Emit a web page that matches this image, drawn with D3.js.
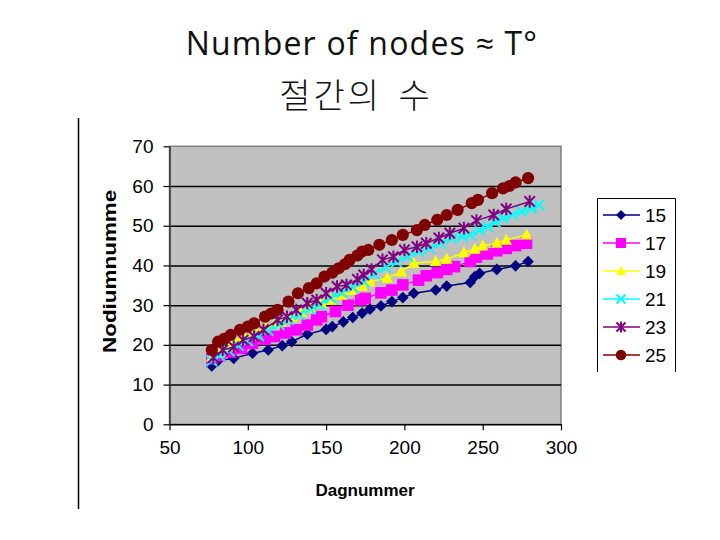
<!DOCTYPE html>
<html>
<head>
<meta charset="utf-8">
<script src="https://cdn.jsdelivr.net/npm/d3@7"></script>
<style>
  body { margin: 0; background: #fff; }
  svg { display: block; }
</style>
</head>
<body>
<div id="chart"></div>
<script>
// series data (day number, node count)
const seriesNames = ["15", "17", "19", "21", "23", "25"];

const days15 = [77, 81, 91, 103, 113, 122, 128, 138, 150, 154, 161, 167, 173, 178, 185, 192, 199, 206, 220, 227, 242, 245, 248, 259, 271, 279];
const vals15 = [14.7, 16, 16.6, 17.9, 18.7, 19.8, 20.8, 22.7, 23.9, 24.6, 25.8, 26.9, 28, 29, 29.8, 30.9, 31.9, 33, 33.8, 34.8, 35.7, 37.2, 38, 39, 39.9, 41];

const days17 = [77, 82, 89, 96, 103, 111, 117, 124, 131, 138, 144, 147, 156, 164, 172, 175, 185, 192, 199, 209, 214, 221, 227, 232, 242, 246, 253, 259, 265, 271, 278];
const vals17 = [16.5, 17.3, 18.2, 19.1, 20.4, 21.4, 22.1, 23, 23.8, 25, 26.3, 27.1, 28.4, 30, 31.3, 31.7, 33.1, 33.8, 35.1, 36.3, 37.4, 38.2, 39, 39.7, 41, 42.1, 42.9, 43.7, 44.3, 45, 45.6];

const days19 = [77, 82, 88, 92, 98, 105, 111, 117, 121, 128, 134, 140, 147, 153, 160, 166, 173, 178, 189, 198, 206, 220, 227, 238, 245, 250, 259, 265, 278];
const vals19 = [17, 18, 19.5, 21.2, 22, 23.3, 24.6, 25.3, 25.8, 27, 28.2, 29.3, 30.5, 31.3, 32.5, 33.7, 34.8, 35.9, 36.8, 38.4, 40.6, 41, 41.6, 43.2, 44.1, 44.9, 45.6, 46.4, 47.7];

const days21 = [77, 82, 88, 94, 100, 107, 113, 120, 126, 133, 140, 146, 153, 160, 167, 174, 181, 188, 195, 202, 209, 216, 223, 230, 237, 242, 248, 253, 258, 263, 269, 275, 281, 286];
const vals21 = [16, 17.3, 18.5, 19.8, 21, 22.3, 23.6, 25.1, 26.4, 27.6, 29, 30.1, 31.8, 33.2, 34.5, 36, 37.8, 39.6, 40.9, 42.3, 43.5, 44.3, 45.6, 46.8, 47.3, 47.7, 48.9, 49.8, 50.9, 51.9, 52.8, 53.6, 54.4, 55.2];

const days23 = [78, 84, 91, 97, 104, 110, 119, 125, 131, 138, 144, 150, 157, 163, 170, 174, 179, 186, 193, 200, 208, 214, 222, 229, 238, 246, 257, 265, 280];
const vals23 = [16.8, 18.7, 19.5, 21.2, 22.1, 23.8, 26.3, 27.1, 28.8, 30.5, 31.3, 33, 34.7, 35.1, 36.5, 37.6, 39, 41.4, 42.2, 43.9, 44.7, 45.6, 46.9, 48.1, 49.4, 51.3, 52.7, 54.2, 56.1];

const days25 = [77, 81, 85, 89, 95, 100, 104, 111, 115, 119, 126, 132, 139, 144, 149, 154, 158, 162, 165, 170, 173, 177, 184, 192, 199, 208, 213, 221, 227, 234, 243, 247, 256, 263, 267, 271, 279];
const vals25 = [18.7, 20.8, 21.5, 22.5, 23.8, 24.6, 25.4, 27.1, 27.9, 28.8, 30.9, 33, 34.3, 35.5, 37.2, 38.2, 39.3, 40.3, 41.4, 42.5, 43.5, 43.9, 45.2, 46.4, 47.7, 48.9, 50.2, 51.5, 52.7, 54, 55.7, 56.5, 58.2, 59.4, 60, 60.9, 62];

const xTicks = [50, 100, 150, 200, 250, 300];
const yTicks = [0, 10, 20, 30, 40, 50, 60, 70];

const allDays = [days15, days17, days19, days21, days23, days25];
const allVals = [vals15, vals17, vals19, vals21, vals23, vals25];
const colors = ["#000080", "#ff00ff", "#ffff00", "#00ffff", "#800080", "#800000"];
const markers = ["diamond", "square", "triangle", "x", "asterisk", "circle"];

const series = seriesNames.map(function(name, i) {
    return {
        name: name,
        color: colors[i],
        marker: markers[i],
        points: allDays[i].map(function(d, j) { return {day: d, val: allVals[i][j]}; })
    };
});

const W = 720, H = 540;
const plot = {left: 169.5, right: 561, top: 146.3, bottom: 424.3};

const svg = d3.select("#chart").append("svg")
    .attr("width", W)
    .attr("height", H)
    .style("font-family", "'Liberation Sans', Arial, sans-serif");

// slide title
svg.append("text")
    .attr("x", 362).attr("y", 55)
    .attr("text-anchor", "middle")
    .style("font-family", "'Open Sans', 'Noto Sans', sans-serif")
    .style("font-size", "32px")
    .style("letter-spacing", "1.2px")
    .attr("fill", "#111")
    .text("Number of nodes ≈ T°");

svg.append("text")
    .attr("x", 356).attr("y", 108)
    .attr("text-anchor", "middle")
    .style("font-family", "'Noto Sans CJK KR', sans-serif")
    .style("font-size", "34px")
    .style("font-weight", 300)
    .style("letter-spacing", "3px")
    .style("word-spacing", "6px")
    .attr("fill", "#111")
    .text("절간의 수");

// vertical rule at the left of the slide
svg.append("line")
    .attr("x1", 78.5).attr("x2", 78.5)
    .attr("y1", 118).attr("y2", 509)
    .attr("stroke", "#000").attr("stroke-width", 1.5);

const x = d3.scaleLinear().domain([50, 300]).range([plot.left, plot.right]);
const y = d3.scaleLinear().domain([0, 70]).range([plot.bottom, plot.top]);

// plot area
svg.append("rect")
    .attr("x", x(50)).attr("y", y(70))
    .attr("width", x(300) - x(50))
    .attr("height", y(0) - y(70))
    .attr("fill", "#c0c0c0")
    .attr("stroke", "#808080")
    .attr("stroke-width", 1.5);

// gridlines
svg.append("g")
    .attr("transform", "translate(" + x(50) + ",0)")
    .call(d3.axisLeft(y).tickValues(yTicks.filter(function(t) { return t > 0 && t < 70; }))
        .tickSize(-(x(300) - x(50))).tickFormat(""))
    .call(function(g) {
        g.select(".domain").remove();
        g.selectAll("line").attr("stroke", "#000").attr("stroke-width", 1.5);
    });

// y axis
svg.append("g")
    .attr("transform", "translate(" + x(50) + ",0)")
    .call(d3.axisLeft(y).tickValues(yTicks).tickSize(6).tickPadding(10).tickSizeOuter(0))
    .call(function(g) {
        g.select(".domain").attr("stroke", "#333").attr("stroke-width", 1.5);
        g.selectAll(".tick line").attr("stroke", "#000").attr("stroke-width", 1.2);
        g.selectAll("text").attr("fill", "#000")
            .style("font-family", "'Liberation Sans', Arial, sans-serif")
            .style("font-size", "19px");
    });

// x axis
svg.append("g")
    .attr("transform", "translate(0," + y(0) + ")")
    .call(d3.axisBottom(x).tickValues(xTicks).tickSize(6).tickPadding(10).tickSizeOuter(0))
    .call(function(g) {
        g.select(".domain").attr("stroke", "#000").attr("stroke-width", 1.5);
        g.selectAll(".tick line").attr("stroke", "#000").attr("stroke-width", 1.2);
        g.selectAll("text").attr("fill", "#000")
            .style("font-family", "'Liberation Sans', Arial, sans-serif")
            .style("font-size", "19px");
    });

// axis titles
svg.append("text")
    .attr("x", 365).attr("y", 496)
    .attr("text-anchor", "middle")
    .style("font-size", "17px")
    .style("font-weight", "bold")
    .text("Dagnummer");

svg.append("clipPath").attr("id", "yclip")
    .append("rect").attr("x", 90).attr("y", 189).attr("width", 40).attr("height", 200);

svg.append("g").attr("clip-path", "url(#yclip)")
    .append("text")
    .attr("transform", "translate(116,353) rotate(-90)")
    .attr("text-anchor", "start")
    .style("font-size", "18px")
    .style("font-weight", "bold")
    .attr("textLength", 172)
    .attr("lengthAdjust", "spacingAndGlyphs")
    .text("Nodiumnummer");

// marker shapes
function markerPath(type, r) {
    if (type === "diamond") return "M0," + (-r) + "L" + r + ",0L0," + r + "L" + (-r) + ",0Z";
    if (type === "square") return "M" + (-r) + "," + (-r) + "h" + (2 * r) + "v" + (2 * r) + "h" + (-2 * r) + "Z";
    if (type === "triangle") return "M0," + (-r * 1.1) + "L" + r + "," + (r * 0.8) + "L" + (-r) + "," + (r * 0.8) + "Z";
    if (type === "x") return "M" + (-r) + "," + (-r) + "L" + r + "," + r + "M" + (-r) + "," + r + "L" + r + "," + (-r);
    if (type === "asterisk") return "M" + (-r) + "," + (-r) + "L" + r + "," + r + "M" + (-r) + "," + r + "L" + r + "," + (-r) + "M0," + (-r * 1.2) + "L0," + (r * 1.2);
    return null;
}

function drawMarker(sel, s, size) {
    if (s.marker === "circle") {
        sel.append("circle").attr("r", size * 1.05).attr("fill", s.color);
    } else if (s.marker === "x" || s.marker === "asterisk") {
        sel.append("path").attr("d", markerPath(s.marker, size * 0.9))
            .attr("fill", "none").attr("stroke", s.color).attr("stroke-width", 2);
    } else {
        sel.append("path").attr("d", markerPath(s.marker, size)).attr("fill", s.color);
    }
}

const line = d3.line()
    .x(function(d) { return x(d.day); })
    .y(function(d) { return y(d.val); });

const seriesG = svg.append("g");
series.forEach(function(s) {
    const g = seriesG.append("g");
    g.append("path")
        .datum(s.points)
        .attr("d", line)
        .attr("fill", "none")
        .attr("stroke", s.color)
        .attr("stroke-width", 1.5);
    g.selectAll(".pt").data(s.points).enter().append("g")
        .attr("class", "pt")
        .attr("transform", function(d) { return "translate(" + x(d.day) + "," + y(d.val) + ")"; })
        .each(function() { drawMarker(d3.select(this), s, 5.8); });
});

// legend (bottom edge is cut off in the original)
const legend = svg.append("g");
legend.append("rect")
    .attr("x", 597.5).attr("y", 198.5).attr("width", 78).attr("height", 174)
    .attr("fill", "#fff");
legend.append("path")
    .attr("d", "M597.5,372V198.5H675.5V372")
    .attr("fill", "none").attr("stroke", "#000").attr("stroke-width", 1);

series.forEach(function(s, i) {
    const ly = 215 + i * 28;
    const item = legend.append("g").attr("transform", "translate(0," + ly + ")");
    item.append("line")
        .attr("x1", 603).attr("x2", 640).attr("y1", 0).attr("y2", 0)
        .attr("stroke", s.color).attr("stroke-width", 1.5);
    const m = item.append("g").attr("transform", "translate(621,0)");
    drawMarker(m, s, 5);
    item.append("text")
        .attr("x", 645).attr("y", 7)
        .style("font-size", "19px")
        .text(s.name);
});
</script>
</body>
</html>
